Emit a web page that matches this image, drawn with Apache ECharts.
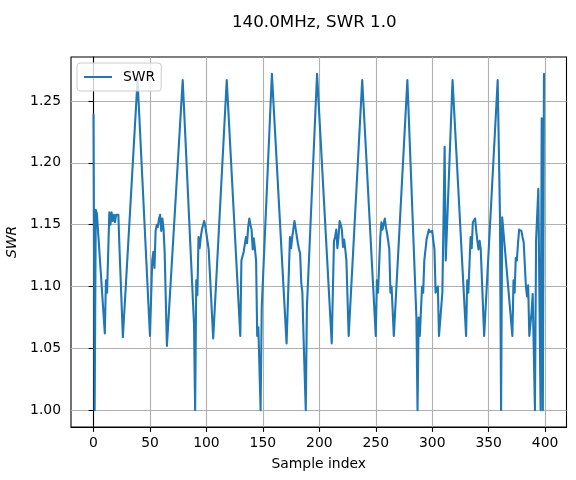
<!DOCTYPE html>
<html>
<head>
<meta charset="utf-8">
<script src="https://cdn.jsdelivr.net/npm/echarts@6/dist/echarts.min.js"></script>
<style>html,body{margin:0;padding:0;background:#fff;}#c{width:576px;height:480px;}</style>
</head>
<body>
<div id="c"></div>
<script>
const titleText = '140.0MHz, SWR 1.0';
const xTicks = [0, 50, 100, 150, 200, 250, 300, 350, 400];
const yTicks = [1.00, 1.05, 1.10, 1.15, 1.20, 1.25];
const sampleIndex = [
  0,1,2,3,10,11,12,14,15,16,17,18,19,20,22,23,26,39,
  50,52,53,54,55,56,57,58,59,60,61,62,63,65,79,
  89,90,91,92,93,94,95,96,98,99,100,102,106,118,
  130,131,133,135,136,137,138,139,140,141,142,143,144,145,146,148,149,158,
  171,174,175,176,178,179,180,181,182,183,184,185,186,188,189,198,
  211,213,214,215,216,217,218,219,220,221,222,223,224,226,238,
  250,251,252,254,255,256,258,259,260,261,262,263,264,266,278,
  286,287,288,289,291,292,293,295,297,298,300,301,302,303,305,306,309,311,312,318,
  330,331,332,334,335,336,338,339,340,341,342,343,346,358,
  360,361,362,371,372,373,374,375,376,377,379,380,381,383,384,385,386,388,389,390,391,392,394,395,396,397,398,399
];
const swr = [
  1.239,1.000,1.162,1.159,1.062,1.105,1.095,1.160,1.150,1.160,1.153,1.158,1.152,1.158,1.158,1.131,1.059,1.267,
  1.060,1.121,1.128,1.115,1.145,1.150,1.148,1.155,1.158,1.145,1.155,1.147,1.128,1.052,1.267,
  1.070,1.000,1.105,1.093,1.140,1.131,1.140,1.146,1.153,1.149,1.148,1.130,1.058,1.267,
  1.060,1.121,1.128,1.140,1.135,1.148,1.155,1.150,1.146,1.130,1.139,1.130,1.121,1.060,1.067,1.000,1.083,1.272,
  1.054,1.140,1.131,1.140,1.153,1.147,1.146,1.135,1.130,1.127,1.103,1.095,1.060,1.000,1.083,1.272,
  1.054,1.137,1.140,1.146,1.131,1.140,1.153,1.150,1.146,1.132,1.138,1.130,1.121,1.060,1.267,
  1.060,1.105,1.095,1.140,1.152,1.146,1.155,1.148,1.143,1.137,1.130,1.095,1.100,1.060,1.267,
  1.075,1.000,1.075,1.060,1.100,1.095,1.121,1.138,1.146,1.144,1.145,1.137,1.130,1.095,1.100,1.060,1.095,1.213,1.121,1.267,
  1.060,1.105,1.095,1.140,1.131,1.152,1.155,1.145,1.137,1.130,1.137,1.130,1.060,1.267,
  1.158,1.000,1.156,1.060,1.105,1.095,1.123,1.121,1.135,1.146,1.145,1.140,1.136,1.100,1.092,1.101,1.060,1.079,1.094,1.094,1.000,1.137,1.179,1.179,1.000,1.236,1.000,1.272
];
const seriesData = sampleIndex.map((x, i) => [x, swr[i]]);

const font = 'DejaVu Sans';
const chart = echarts.init(document.getElementById('c'), null, {renderer: 'canvas'});
chart.setOption({
  animation: false,
  backgroundColor: '#ffffff',
  title: {
    text: titleText,
    left: 227,
    top: 9,
    textStyle: {fontFamily: font, fontSize: 16.7, fontWeight: 'normal', color: '#000'}
  },
  legend: {
    left: 77,
    top: 63,
    orient: 'vertical',
    icon: 'rect',
    itemWidth: 28,
    itemHeight: 2,
    padding: [7, 6, 7, 7],
    borderColor: '#cccccc',
    borderWidth: 1,
    borderRadius: 3,
    backgroundColor: 'rgba(255,255,255,0.8)',
    textStyle: {fontFamily: font, fontSize: 13.9, color: '#000', padding: [0, 0, 0, 6]},
    data: ['SWR']
  },
  grid: {
    left: 71, right: 9.5, top: 57, bottom: 53,
    show: true, borderColor: '#000', borderWidth: 1.1,
    containLabel: false, outerBoundsMode: 'none'
  },
  xAxis: {
    type: 'value',
    min: -19.95,
    max: 418.95,
    name: 'Sample index',
    nameLocation: 'middle',
    nameGap: 30,
    nameTextStyle: {fontFamily: font, fontSize: 13.9, color: '#000'},
    axisLine: {show: true, lineStyle: {color: '#000', width: 1.1}},
    axisTick: {show: true, inside: false, length: 4.9, customValues: xTicks, lineStyle: {color: '#000', width: 1.1}},
    axisLabel: {customValues: xTicks, margin: 9, fontFamily: font, fontSize: 13.9, color: '#000', formatter: v => String(v)},
    splitLine: {show: true, lineStyle: {color: '#b0b0b0', width: 1.1}}
  },
  yAxis: {
    type: 'value',
    min: 0.9864,
    max: 1.2856,
    name: 'SWR',
    nameLocation: 'middle',
    nameRotate: 90,
    nameGap: 45,
    nameTextStyle: {fontFamily: font, fontSize: 13.9, fontStyle: 'italic', color: '#000'},
    axisLine: {show: true, lineStyle: {color: '#000', width: 1.1}},
    axisTick: {show: true, inside: false, length: 4.9, customValues: yTicks, lineStyle: {color: '#000', width: 1.1}},
    axisLabel: {customValues: yTicks, margin: 10, fontFamily: font, fontSize: 13.9, color: '#000', formatter: v => v.toFixed(2)},
    splitLine: {show: true, lineStyle: {color: '#b0b0b0', width: 1.1}}
  },
  series: [{
    name: 'SWR',
    type: 'line',
    data: seriesData,
    showSymbol: false,
    symbol: 'none',
    color: '#1f77b4',
    lineStyle: {color: '#1f77b4', width: 2.1, join: 'round', cap: 'round'},
    clip: true
  }]
});
</script>
</body>
</html>
